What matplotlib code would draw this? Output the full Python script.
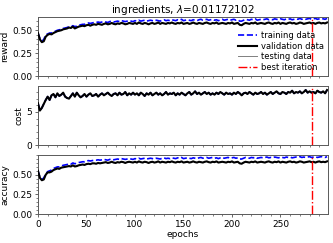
import numpy as np
import matplotlib
matplotlib.use('Agg')
import matplotlib.pyplot as plt
from matplotlib.ticker import MultipleLocator, AutoMinorLocator, FormatStrFormatter

# one value every 2 epochs
epochs = np.arange(0, 300, 2)
best_iter = 283

rew_train = [0.47,0.41,0.38,0.40,0.45,0.46,0.47,0.47,0.48,0.49,
             0.50,0.505,0.51,0.52,0.525,0.53,0.54,0.535,0.55,0.54,
             0.545,0.555,0.56,0.565,0.565,0.575,0.58,0.575,0.58,0.585,
             0.585,0.59,0.585,0.59,0.595,0.59,0.585,0.595,0.60,0.59,
             0.595,0.60,0.595,0.605,0.60,0.595,0.60,0.605,0.60,0.595,
             0.605,0.60,0.61,0.60,0.605,0.61,0.60,0.605,0.61,0.605,
             0.60,0.61,0.605,0.60,0.61,0.615,0.605,0.61,0.605,0.615,
             0.61,0.605,0.615,0.61,0.62,0.605,0.61,0.615,0.61,0.605,
             0.615,0.61,0.605,0.615,0.62,0.61,0.615,0.62,0.61,0.615,
             0.62,0.61,0.615,0.605,0.615,0.62,0.61,0.615,0.62,0.61,
             0.615,0.62,0.61,0.615,0.60,0.60,0.61,0.62,0.615,0.61,
             0.62,0.615,0.625,0.61,0.615,0.62,0.615,0.62,0.625,0.615,
             0.62,0.615,0.625,0.62,0.615,0.625,0.62,0.615,0.625,0.62,
             0.625,0.615,0.62,0.625,0.62,0.63,0.62,0.625,0.62,0.625,
             0.63,0.62,0.625,0.63,0.62,0.625,0.63,0.625,0.62,0.63]
rew_val = [0.47,0.40,0.37,0.38,0.43,0.45,0.46,0.455,0.47,0.48,
           0.49,0.495,0.50,0.51,0.515,0.52,0.53,0.525,0.54,0.52,
           0.53,0.54,0.545,0.55,0.545,0.555,0.56,0.55,0.56,0.565,
           0.56,0.57,0.565,0.56,0.57,0.575,0.565,0.57,0.58,0.57,
           0.565,0.575,0.57,0.58,0.575,0.565,0.57,0.58,0.575,0.57,
           0.58,0.57,0.585,0.575,0.57,0.58,0.575,0.565,0.575,0.58,
           0.57,0.575,0.585,0.57,0.58,0.575,0.57,0.58,0.575,0.585,
           0.575,0.57,0.58,0.575,0.585,0.57,0.575,0.58,0.57,0.575,
           0.585,0.575,0.57,0.58,0.575,0.57,0.58,0.585,0.575,0.57,
           0.58,0.575,0.585,0.57,0.575,0.58,0.575,0.57,0.58,0.575,
           0.585,0.57,0.575,0.58,0.56,0.555,0.57,0.58,0.575,0.57,
           0.58,0.575,0.585,0.57,0.575,0.58,0.575,0.57,0.58,0.585,
           0.575,0.57,0.58,0.575,0.585,0.57,0.58,0.575,0.57,0.58,
           0.585,0.575,0.58,0.57,0.575,0.585,0.58,0.57,0.575,0.58,
           0.585,0.575,0.58,0.57,0.58,0.585,0.575,0.58,0.575,0.585]

cost = [6.3,5.2,5.6,6.2,6.8,7.3,6.8,7.5,7.7,7.2,
        7.8,7.4,7.6,7.9,7.3,7.1,7.0,7.4,7.8,7.3,
        7.9,7.5,7.2,7.4,7.7,7.3,7.6,7.8,7.4,7.5,
        7.7,7.3,7.6,7.8,7.5,7.7,7.9,7.6,7.4,7.7,
        7.8,7.5,7.9,7.6,7.7,8.0,7.5,7.8,7.6,7.9,
        7.6,7.8,7.5,7.9,7.7,7.4,7.8,7.6,7.9,7.5,
        7.7,7.9,7.6,7.8,7.5,7.7,8.0,7.6,7.8,7.7,
        7.9,7.5,7.8,7.6,7.9,7.7,7.5,7.8,8.0,7.6,
        7.8,8.1,7.7,7.9,7.6,7.8,8.0,7.7,7.9,7.6,
        7.8,7.6,7.9,7.7,8.0,7.8,7.6,7.9,7.7,7.8,
        7.6,7.9,7.7,8.0,7.8,7.5,7.8,7.9,7.7,8.0,
        7.8,7.6,7.9,7.7,7.8,8.0,7.7,7.9,7.6,7.8,
        8.0,7.7,7.9,8.1,7.8,7.7,8.0,7.9,7.7,8.0,
        7.9,8.2,7.8,8.0,7.9,8.1,7.8,8.0,8.3,7.9,
        8.1,7.9,8.0,7.8,8.2,8.0,7.9,8.1,7.8,8.3]

acc_train = [0.55,0.47,0.44,0.46,0.51,0.54,0.55,0.56,0.58,0.59,
             0.60,0.60,0.61,0.62,0.625,0.63,0.64,0.635,0.65,0.64,
             0.645,0.655,0.66,0.665,0.665,0.675,0.68,0.675,0.68,0.685,
             0.685,0.69,0.685,0.69,0.695,0.69,0.685,0.695,0.70,0.69,
             0.695,0.70,0.695,0.705,0.70,0.695,0.70,0.705,0.70,0.695,
             0.705,0.70,0.71,0.70,0.705,0.71,0.70,0.705,0.71,0.705,
             0.70,0.71,0.705,0.70,0.71,0.715,0.705,0.71,0.705,0.715,
             0.71,0.705,0.715,0.71,0.72,0.705,0.71,0.715,0.71,0.705,
             0.715,0.71,0.705,0.715,0.72,0.71,0.715,0.72,0.71,0.715,
             0.72,0.71,0.715,0.705,0.715,0.72,0.71,0.715,0.72,0.71,
             0.715,0.72,0.71,0.715,0.70,0.70,0.71,0.72,0.715,0.71,
             0.72,0.715,0.725,0.71,0.715,0.72,0.715,0.72,0.725,0.715,
             0.72,0.715,0.725,0.72,0.715,0.725,0.72,0.715,0.725,0.72,
             0.725,0.715,0.72,0.725,0.72,0.73,0.72,0.725,0.72,0.725,
             0.73,0.72,0.725,0.73,0.72,0.725,0.73,0.725,0.72,0.73]
acc_val = [0.55,0.46,0.43,0.44,0.50,0.53,0.53,0.54,0.56,0.57,
           0.58,0.575,0.59,0.595,0.60,0.605,0.61,0.605,0.62,0.605,
           0.61,0.62,0.625,0.63,0.625,0.635,0.64,0.635,0.645,0.645,
           0.64,0.65,0.645,0.65,0.655,0.66,0.65,0.655,0.665,0.655,
           0.65,0.66,0.655,0.665,0.66,0.65,0.66,0.665,0.66,0.655,
           0.665,0.655,0.67,0.66,0.655,0.665,0.66,0.65,0.66,0.665,
           0.655,0.66,0.67,0.655,0.665,0.66,0.655,0.665,0.66,0.67,
           0.66,0.655,0.665,0.66,0.67,0.655,0.66,0.665,0.655,0.66,
           0.67,0.66,0.655,0.665,0.66,0.655,0.665,0.67,0.66,0.655,
           0.665,0.66,0.67,0.655,0.66,0.665,0.66,0.655,0.665,0.66,
           0.67,0.655,0.66,0.665,0.645,0.64,0.655,0.665,0.66,0.655,
           0.665,0.66,0.67,0.655,0.66,0.665,0.66,0.655,0.665,0.67,
           0.66,0.655,0.665,0.66,0.67,0.655,0.665,0.66,0.655,0.665,
           0.67,0.66,0.665,0.655,0.66,0.67,0.665,0.655,0.66,0.665,
           0.67,0.66,0.665,0.655,0.665,0.67,0.66,0.665,0.66,0.67]

# testing curves sit under the validation curves in the picture
rew_test = rew_val
acc_test = acc_val

fig, axs = plt.subplots(3, 1, sharex=True, figsize=(3.33, 2.43), dpi=100)
fig.subplots_adjust(left=0.114, right=0.985, top=0.93, bottom=0.119, hspace=0.17)

panels = [(rew_train, rew_val, rew_test, 'reward', 0.645, [0, 0.25, 0.5]),
          (cost, cost, cost, 'cost', 8.9, [0, 5]),
          (acc_train, acc_val, acc_test, 'accuracy', 0.75, [0, 0.25, 0.5])]

for ax, (tr, va, te, name, top, yt) in zip(axs, panels):
    ax.plot(epochs, tr, '--', color='blue', lw=1.2, label='training data')
    ax.plot(epochs, va, '-', color='black', lw=1.5, label='validation data', zorder=3)
    ax.plot(epochs, te, '-', color='gray', lw=0.7, label='testing data', zorder=2)
    ax.axvline(best_iter, color='red', ls='-.', lw=1.0, label='best iteration', zorder=4)
    ax.set_ylim(0, top)
    ax.set_yticks(yt)
    ax.set_ylabel(name, fontsize=6.5, labelpad=2)
    ax.xaxis.set_minor_locator(MultipleLocator(10))
    ax.yaxis.set_minor_locator(AutoMinorLocator(5))
    ax.tick_params(labelsize=6.5, length=2.5, width=0.6, pad=1.5, color='0.3')
    ax.tick_params(which='minor', length=1.5, width=0.5, color='0.3')
    for s in ax.spines.values():
        s.set_linewidth(0.7)
        s.set_color('0.35')

axs[0].yaxis.set_major_formatter(FormatStrFormatter('%.2f'))
axs[2].yaxis.set_major_formatter(FormatStrFormatter('%.2f'))
axs[2].set_xlim(0, 299)
axs[2].set_xticks([0, 50, 100, 150, 200, 250])
axs[2].set_xlabel('epochs', fontsize=6.5, labelpad=1)
axs[0].set_title(r'ingredients, $\lambda$=0.01172102', fontsize=7.5, pad=2)
axs[0].legend(loc='lower right', fontsize=6, frameon=False, handlelength=2.2,
              labelspacing=0.2, borderaxespad=0.1, handletextpad=0.5)

fig.savefig('out.png', dpi=100)
